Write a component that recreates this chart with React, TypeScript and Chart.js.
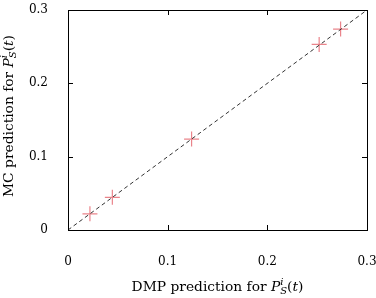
import React, { useEffect, useRef } from "react";
import { Chart, registerables } from "chart.js";

Chart.register(...registerables);

const dmpValues = [0.022, 0.0445, 0.124, 0.252, 0.2735];
const mcValues = [0.022, 0.0445, 0.124, 0.253, 0.274];
const diagonalX = [0, 0.3];
const diagonalY = [0, 0.3];
const tickValues = [0, 0.1, 0.2, 0.3];
const xTitleText = "DMP prediction for ";
const yTitleText = "MC prediction for ";

const FONT = "'DejaVu Serif', 'Liberation Serif', serif";
const SIZE = 12;
const TSIZE = 13.8;

type Seg = { t: string; italic?: boolean; shift?: number; small?: boolean };

function drawRich(ctx: CanvasRenderingContext2D, segs: Seg[], cx: number, cy: number) {
  const fontFor = (s: Seg) =>
    `${s.italic ? "italic " : ""}${s.small ? 10 : TSIZE}px ${FONT}`;
  const widths: number[] = [];
  const isSubBeforeSup = (i: number) => {
    const s = segs[i];
    const n = segs[i + 1];
    return !!(s.shift && s.shift > 0 && n && n.shift && n.shift < 0);
  };
  segs.forEach((s) => {
    ctx.font = fontFor(s);
    widths.push(ctx.measureText(s.t).width);
  });
  let total = 0;
  segs.forEach((s, i) => {
    if (isSubBeforeSup(i)) return;
    if (s.shift && s.shift < 0 && i > 0 && isSubBeforeSup(i - 1)) {
      total += Math.max(widths[i], widths[i - 1]);
    } else total += widths[i];
  });
  let x = cx - total / 2;
  segs.forEach((s, i) => {
    ctx.font = fontFor(s);
    ctx.textBaseline = "middle";
    ctx.textAlign = "left";
    ctx.fillStyle = "#000";
    ctx.fillText(s.t, x, cy + (s.shift || 0));
    if (isSubBeforeSup(i)) return;
    if (s.shift && s.shift < 0 && i > 0 && isSubBeforeSup(i - 1)) {
      x += Math.max(widths[i], widths[i - 1]);
    } else x += widths[i];
  });
}

function titleSegs(prefix: string): Seg[] {
  return [
    { t: prefix },
    { t: "P", italic: true },
    { t: "S", italic: true, small: true, shift: 4 },
    { t: "i", italic: true, small: true, shift: -5 },
    { t: "(" },
    { t: "t", italic: true },
    { t: ")" },
  ];
}

const framePlugin = {
  id: "frameTicks",
  afterDatasetsDraw(chart: any) {
    const { ctx, chartArea, scales } = chart;
    const { left, right, top, bottom } = chartArea;
    ctx.save();
    ctx.strokeStyle = "#000";
    ctx.lineWidth = 1;
    ctx.beginPath();
    tickValues.forEach((v) => {
      const px = Math.round(scales.x.getPixelForValue(v)) + 0.5;
      ctx.moveTo(px, bottom);
      ctx.lineTo(px, bottom - 5);
      ctx.moveTo(px, top);
      ctx.lineTo(px, top + 5);
      const py = Math.round(scales.y.getPixelForValue(v)) + 0.5;
      ctx.moveTo(left, py);
      ctx.lineTo(left + 5, py);
      ctx.moveTo(right, py);
      ctx.lineTo(right - 5, py);
    });
    ctx.stroke();
    ctx.strokeRect(Math.round(left) + 0.5, Math.round(top) + 0.5, Math.round(right - left), Math.round(bottom - top));
    ctx.restore();
  },
  afterDraw(chart: any) {
    const { ctx, chartArea } = chart;
    ctx.save();
    drawRich(ctx, titleSegs(xTitleText), (chartArea.left + chartArea.right) / 2, 287);
    ctx.translate(9, (chartArea.top + chartArea.bottom) / 2 - 4);
    ctx.rotate(-Math.PI / 2);
    drawRich(ctx, titleSegs(yTitleText), 0, 0);
    ctx.restore();
  },
};

export default function App() {
  const ref = useRef<HTMLCanvasElement | null>(null);
  useEffect(() => {
    document.body.style.margin = "0";
    const tickFmt = (v: any) => (Number(v) === 0 ? "0" : Number(v).toFixed(1));
    const chart = new Chart(ref.current!, {
      type: "scatter",
      data: {
        datasets: [
          {
            label: "diagonal",
            data: diagonalX.map((x, i) => ({ x, y: diagonalY[i] })),
            showLine: true,
            borderColor: "#333",
            borderWidth: 1,
            borderDash: [4, 3],
            pointRadius: 0,
            order: 0,
          },
          {
            label: "points",
            data: dmpValues.map((x, i) => ({ x, y: mcValues[i] })),
            pointStyle: "cross",
            pointRadius: 7.5,
            borderColor: "rgba(225,80,90,0.7)",
            backgroundColor: "rgba(225,80,90,0.7)",
            borderWidth: 1.2,
            order: 1,
          },
        ],
      },
      options: {
        animation: false,
        responsive: true,
        maintainAspectRatio: false,
        devicePixelRatio: 1,
        layout: { padding: { left: 0, right: 9, top: 10, bottom: 0 } },
        plugins: { legend: { display: false }, tooltip: { enabled: false } },
        scales: {
          x: {
            type: "linear",
            min: 0,
            max: 0.3,
            grid: { display: false, drawTicks: false },
            border: { display: false },
            ticks: {
              stepSize: 0.1,
              padding: 25,
              color: "#000",
              font: { family: FONT, size: SIZE },
              callback: tickFmt,
              maxRotation: 0,
            },
            afterFit: (s: any) => {
              s.height = 68;
              s.paddingLeft = 0;
              s.paddingRight = 0;
            },
          },
          y: {
            type: "linear",
            min: 0,
            max: 0.3,
            grid: { display: false, drawTicks: false },
            border: { display: false },
            ticks: {
              stepSize: 0.1,
              padding: 20,
              color: "#000",
              font: { family: FONT, size: SIZE },
              callback: tickFmt,
            },
            afterFit: (s: any) => {
              s.width = 68;
              s.paddingTop = 0;
              s.paddingBottom = 0;
            },
          },
        },
      },
      plugins: [framePlugin],
    });
    return () => chart.destroy();
  }, []);
  return (
    <div style={{ position: "absolute", left: 0, top: 0, width: 376, height: 298 }}>
      <canvas ref={ref} />
    </div>
  );
}
